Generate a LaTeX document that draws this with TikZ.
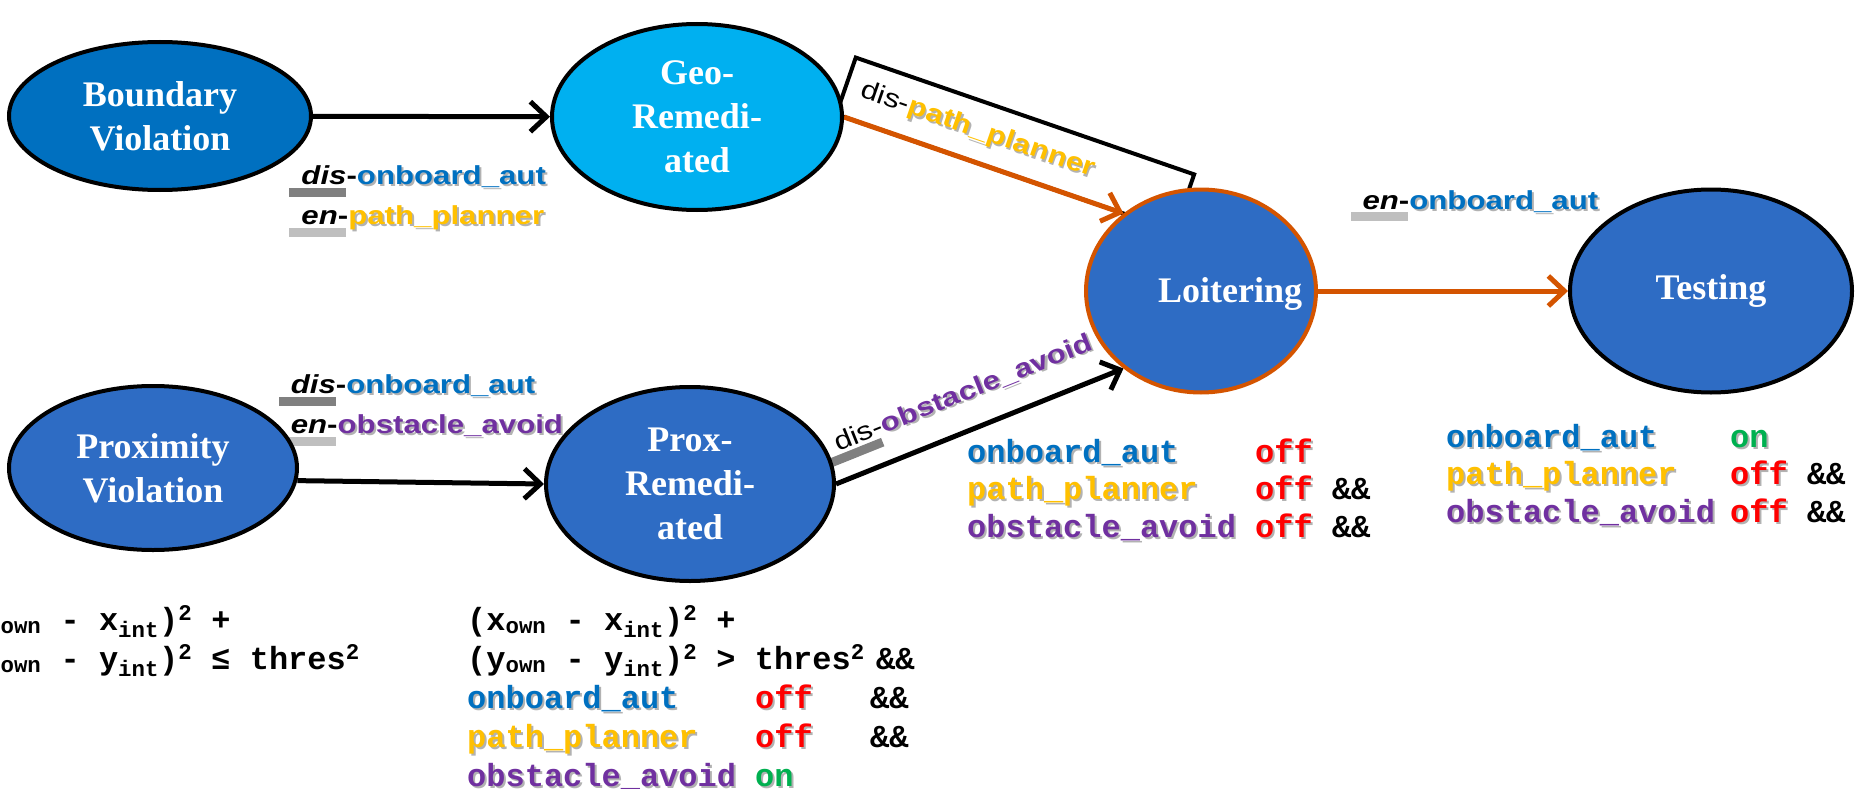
\documentclass[tikz,border=0pt]{standalone}
\usepackage{fontspec}
\setmainfont{Liberation Serif}
\newfontfamily\lblfont[FakeStretch=1.2]{Liberation Sans}
\newfontfamily\codefont{Liberation Mono}
\usepackage{xcolor}
\usetikzlibrary{shapes.geometric, arrows.meta, backgrounds}

\definecolor{cbound}{RGB}{0,112,192}
\definecolor{cgeo}{RGB}{0,176,240}
\definecolor{cstate}{RGB}{46,108,196}
\definecolor{cedge}{RGB}{212,84,0}
\definecolor{cblue}{RGB}{0,112,192}
\definecolor{cyellow}{RGB}{255,192,0}
\definecolor{cpurple}{RGB}{112,48,160}
\definecolor{cred}{RGB}{255,0,0}
\definecolor{cgreen}{RGB}{0,176,80}
\definecolor{bardark}{RGB}{128,128,128}
\definecolor{barlight}{RGB}{191,191,191}

% shadowed text and the grey bar under dis/en
\newcommand{\shd}[2]{\makebox[0pt][l]{\hspace{2pt}\raisebox{-2pt}{\textcolor{black!30}{#2}}}\textcolor{#1}{#2}}
\newcommand{\tagbar}[1]{\makebox[0pt][l]{\hspace{-12pt}\textcolor{#1}{\rule[-12pt]{57pt}{9pt}}}}
\newcommand{\rows}[1]{\begin{tabular}[t]{@{}l@{}}#1\end{tabular}}

\begin{document}
\begin{tikzpicture}[
    x=1pt, y=-1pt,
    state/.style={ellipse, draw=black, line width=4pt, fill=cstate, text=white, align=center, inner sep=0pt, font=\fontsize{36}{44}\selectfont\bfseries},
    statetext/.style={text=white, inner sep=0pt, font=\fontsize{36}{44}\selectfont\bfseries},
    arr/.style={line width=5pt, -{Straight Barb[length=16pt,width=30pt]}},
    arrorange/.style={arr, draw=cedge},
    lbl/.style={inner sep=0pt, align=left, font=\lblfont\fontsize{26}{40}\selectfont},
    boxlbl/.style={draw=black, line width=4pt, outer sep=0pt, minimum width=358pt, minimum height=60pt, text width=326pt, inner xsep=16pt, inner ysep=0pt, align=left, font=\lblfont\fontsize{26}{30}\selectfont},
    code/.style={anchor=base west, inner sep=0pt, font=\codefont\bfseries\fontsize{32}{39}\selectfont},
    coderight/.style={code, font=\codefont\bfseries\fontsize{32}{37.5}\selectfont}
]
\useasboundingbox (0,0) rectangle (1860,789);

% States
\node[state, fill=cbound, minimum width=302pt, minimum height=148pt] (bviol) at (160,116) {Boundary\\Violation};
\node[state, fill=cgeo, minimum width=290pt, minimum height=186pt] (geo) at (697,117) {Geo-\\Remedi-\\ated};
\node[state, draw=cedge, minimum width=230pt, minimum height=203pt] (loit) at (1201,291) {};
\node[statetext, anchor=base] (loittext) at (1230,302) {Loitering};
\node[state, minimum width=282pt, minimum height=203pt] (test) at (1711,291) {Testing};
\node[state, minimum width=288pt, minimum height=164pt] (pviol) at (153,468) {Proximity\\Violation};
\node[state, minimum width=288pt, minimum height=194pt] (prem) at (690,484) {Prox-\\Remedi-\\ated};

% Transitions
\begin{pgfonlayer}{background}
\draw[arr] (bviol) -- node[lbl, anchor=north west, pos=0, xshift=-14pt, yshift=-47pt] (lblbg)
    {\tagbar{bardark}\textbf{\textit{dis}-}\shd{cblue}{\textbf{onboard\_aut}}\\
     \tagbar{barlight}\textbf{\textit{en}-}\shd{cyellow}{\textbf{path\_planner}}} (geo);
\draw[arr] (pviol.-5) -- node[lbl, anchor=north west, pos=0, xshift=-9pt, yshift=108pt] (lblpp)
    {\tagbar{bardark}\textbf{\textit{dis}-}\shd{cblue}{\textbf{onboard\_aut}}\\
     \tagbar{barlight}\textbf{\textit{en}-}\shd{cpurple}{\textbf{obstacle\_avoid}}} (prem.west);
\draw[arrorange] (geo.east) -- node[boxlbl, behind path, sloped, anchor=south west, pos=-0.028] (lblgl)
    {dis-\shd{cyellow}{\textbf{path\_planner}}} (loit.135);
\draw[arr] (prem.east) -- node[lbl, sloped, anchor=south west, pos=0.037, text depth=26.5pt] (lblpl)
    {\tagbar{bardark}dis-\shd{cpurple}{\textbf{obstacle\_avoid}}} (loit.225);
\draw[arrorange] (loit) -- node[lbl, anchor=base west, pos=0, xshift=42pt, yshift=82pt] (lbllt)
    {\tagbar{barlight}\textbf{\textit{en}-}\shd{cblue}{\textbf{onboard\_aut}}} (test);
\end{pgfonlayer}

% Guards
\node[code] (guardbound) at (-38,630) {\rows{%
    (x\textsubscript{own} - x\textsubscript{int})\textsuperscript{2} +\\
    (y\textsubscript{own} - y\textsubscript{int})\textsuperscript{2} ≤ thres\textsuperscript{2}}};
\node[code] (guardprox) at (467,630) {\rows{%
    (x\textsubscript{own} - x\textsubscript{int})\textsuperscript{2} +\\
    \makebox[409pt][l]{(y\textsubscript{own} - y\textsubscript{int})\textsuperscript{2} > thres\textsuperscript{2}}\&\&\\
    \makebox[288pt][l]{\shd{cblue}{onboard\_aut}}\makebox[115pt][l]{\shd{cred}{off}}\&\&\\
    \makebox[288pt][l]{\shd{cyellow}{path\_planner}}\makebox[115pt][l]{\shd{cred}{off}}\&\&\\
    \makebox[288pt][l]{\shd{cpurple}{obstacle\_avoid}}\shd{cgreen}{on}}};
\node[coderight] (guardloit) at (967,462) {\rows{%
    \makebox[288pt][l]{\shd{cblue}{onboard\_aut}}\shd{cred}{off}\\
    \makebox[288pt][l]{\shd{cyellow}{path\_planner}}\shd{cred}{off} \&\&\\
    \makebox[288pt][l]{\shd{cpurple}{obstacle\_avoid}}\shd{cred}{off} \&\&}};
\node[coderight] (guardtest) at (1446,447) {\rows{%
    \makebox[284pt][l]{\shd{cblue}{onboard\_aut}}\shd{cgreen}{on}\\
    \makebox[284pt][l]{\shd{cyellow}{path\_planner}}\shd{cred}{off} \&\&\\
    \makebox[284pt][l]{\shd{cpurple}{obstacle\_avoid}}\shd{cred}{off} \&\&}};

\end{tikzpicture}
\end{document}
